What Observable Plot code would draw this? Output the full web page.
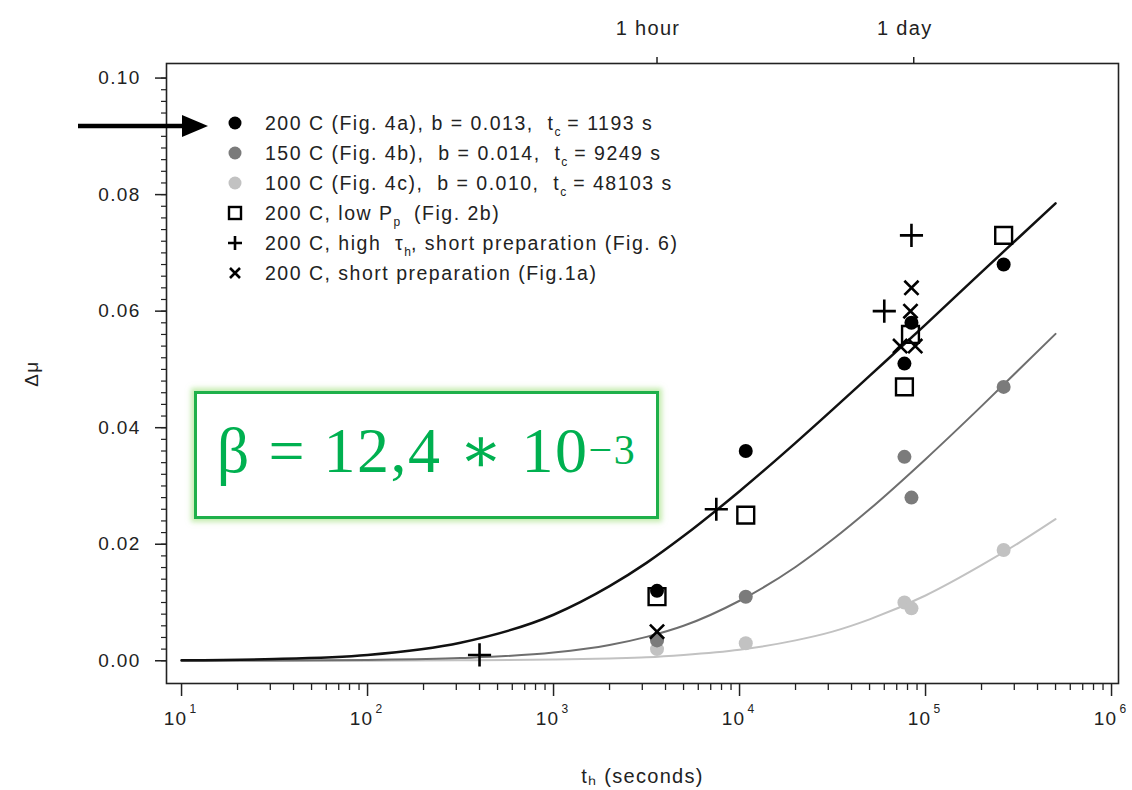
<!DOCTYPE html>
<html><head><meta charset="utf-8">
<script src="https://cdn.jsdelivr.net/npm/d3@7"></script>
<script src="https://cdn.jsdelivr.net/npm/@observablehq/plot@0.6"></script>
<style>
body{margin:0;background:#fff;}
#wrap{position:relative;width:1132px;height:790px;font-family:"Liberation Sans",Arial,sans-serif;color:#222;}
#wrap svg text{letter-spacing:1.3px;}
#legend{position:absolute;left:224px;top:108px;font-size:19.5px;letter-spacing:1.5px;line-height:30px;white-space:pre;color:#222;}
#legend .row{display:flex;align-items:center;height:30px;}
#legend svg{width:22px;height:22px;margin-right:19px;}
#legend sub{font-size:12px;vertical-align:-6px;line-height:0;letter-spacing:0;}
#beta{position:absolute;left:194px;top:391px;width:465px;height:128px;box-sizing:border-box;border:3px solid #1fb04a;box-shadow:0 0 5px 3px rgba(150,220,110,0.55);
 font-family:"Liberation Serif","DejaVu Serif",serif;color:#00b050;font-size:64px;letter-spacing:1.5px;display:flex;align-items:center;justify-content:center;white-space:pre;padding-bottom:10px;}
#beta sup{font-size:42px;vertical-align:26px;line-height:0;}
#overlay{position:absolute;left:0;top:0;pointer-events:none;}
</style></head><body><div id="wrap"></div>
<script>
// ---- data ----
const curveT = [10, 31.6, 100, 316, 1000, 2000, 3162, 5000, 10000, 20000, 31620, 50000, 100000, 200000, 316200, 500000];
const fit200 = [0.0001, 0.0003, 0.001, 0.0031, 0.0079, 0.0128, 0.0168, 0.0214, 0.0291, 0.0374, 0.0431, 0.0489, 0.0577, 0.0667, 0.0726, 0.0785];
const fit150 = [0.00002, 0.00005, 0.00015, 0.00047, 0.0014, 0.0027, 0.0041, 0.006, 0.0103, 0.0161, 0.0208, 0.026, 0.0346, 0.0437, 0.0499, 0.0561];
const fit100 = [0.0000, 0.00001, 0.00002, 0.00007, 0.0002, 0.0004, 0.0006, 0.001, 0.0019, 0.0035, 0.005, 0.0071, 0.0112, 0.0164, 0.0202, 0.0243];

const t200 = [3600, 10800, 77000, 84000, 263000];
const mu200 = [0.012, 0.036, 0.051, 0.058, 0.068];
const t150 = [3600, 10800, 77000, 84000, 263000];
const mu150 = [0.0035, 0.011, 0.035, 0.028, 0.047];
const t100 = [3600, 10800, 77000, 84000, 263000];
const mu100 = [0.002, 0.003, 0.010, 0.009, 0.019];
const tLowP = [3600, 10800, 77000, 83000, 263000];
const muLowP = [0.011, 0.025, 0.047, 0.056, 0.073];
const tHighTau = [400, 7500, 60000, 84000];
const muHighTau = [0.001, 0.026, 0.060, 0.073];
const tShort = [3600, 73000, 83000, 84000, 88000];
const muShort = [0.005, 0.054, 0.060, 0.064, 0.054];

const yMajorTicks = [0, 0.02, 0.04, 0.06, 0.08, 0.10];
const yTickLabels = ["0.00", "0.02", "0.04", "0.06", "0.08", "0.10"];
const xMajorTicks = [10, 100, 1000, 10000, 100000, 1000000];
const xTickBase = ["10", "10", "10", "10", "10", "10"];
const xTickExp = ["1", "2", "3", "4", "5", "6"];
const topTicks = [3600, 86400];
const topTickLabels = ["1 hour", "1 day"];

const legendLabels = [
  "200 C (Fig. 4a), b = 0.013,  t<sub>c</sub> = 1193 s",
  "150 C (Fig. 4b),  b = 0.014,  t<sub>c</sub> = 9249 s",
  "100 C (Fig. 4c),  b = 0.010,  t<sub>c</sub> = 48103 s",
  "200 C, low P<sub>p</sub>  (Fig. 2b)",
  "200 C, high  τ<sub>h</sub>, short preparation (Fig. 6)",
  "200 C, short preparation (Fig.1a)"
];
const legendSymbols = ["dot-black", "dot-gray", "dot-light", "square", "plus", "times"];
const betaText = "β = 12,4 ∗ 10";
const betaExp = "−3";

// ---- styles ----
const cBlack = "#000", cGray = "#7b7b7b", cLight = "#c2c2c2";

const yMinor = d3.range(0, 0.1001, 0.002);
const xMinor = [];
for (let k = 1; k <= 5; k++) for (let m = 2; m <= 9; m++) xMinor.push(m * Math.pow(10, k));

const chart = Plot.plot({
  width: 1132, height: 790,
  marginLeft: 166, marginRight: 14, marginTop: 63, marginBottom: 107,
  style: {fontFamily: "Liberation Sans, Arial, sans-serif", fontSize: "19px", color: "#222", background: "transparent"},
  x: {type: "log", domain: [8.3, 1.09e6]},
  y: {domain: [-0.0039, 0.1025]},
  marks: [
    Plot.axisY(yMinor, {tickSize: 5, tickFormat: () => "", label: null, strokeWidth: 1.2}),
    Plot.axisY(yMajorTicks, {tickSize: 11, tickPadding: 15, tickFormat: d => yTickLabels[yMajorTicks.indexOf(d)], strokeWidth: 1.5,
      label: "Δμ", labelAnchor: "center", labelArrow: "none", labelOffset: 142, fontSize: 19}),
    Plot.axisX(xMinor, {tickSize: 7, tickFormat: () => "", label: null, strokeWidth: 1.3}),
    Plot.axisX(xMajorTicks, {tickSize: 13, tickFormat: () => "", strokeWidth: 1.5,
      label: "tₕ (seconds)", labelAnchor: "center", labelArrow: "none", labelOffset: 99, fontSize: 20}),
    Plot.text(xMajorTicks, {x: d => d, text: (d, i) => xTickBase[i], frameAnchor: "bottom", dy: 41, dx: -6, fontSize: 19}),
    Plot.text(xMajorTicks, {x: d => d, text: (d, i) => xTickExp[i], frameAnchor: "bottom", dy: 29, dx: 12, fontSize: 12}),
    Plot.axisX(topTicks, {anchor: "top", tickSize: 7, tickFormat: () => "", label: null, strokeWidth: 1.5}),
    Plot.text(topTicks, {x: d => d, text: (d, i) => topTickLabels[i], frameAnchor: "top", dy: -43, dx: -9, fontSize: 20}),
    Plot.frame({stroke: "#222", strokeWidth: 1.6}),
    Plot.line(fit100, {x: curveT, y: fit100, stroke: cLight, strokeWidth: 2, curve: "monotone-x"}),
    Plot.line(fit150, {x: curveT, y: fit150, stroke: "#6e6e6e", strokeWidth: 2, curve: "monotone-x"}),
    Plot.line(fit200, {x: curveT, y: fit200, stroke: "#111", strokeWidth: 2.5, curve: "monotone-x"}),
    Plot.dot(mu100, {x: t100, y: mu100, r: 7, fill: cLight, stroke: "none"}),
    Plot.dot(mu150, {x: t150, y: mu150, r: 7, fill: cGray, stroke: "none"}),
    Plot.dot(mu200, {x: t200, y: mu200, r: 7, fill: cBlack, stroke: "none"}),
    Plot.dot(muLowP, {x: tLowP, y: muLowP, r: 9.5, symbol: "square", fill: "none", stroke: "#000", strokeWidth: 2.4}),
    Plot.dot(muHighTau, {x: tHighTau, y: muHighTau, r: 7.5, symbol: "plus", stroke: "#000", strokeWidth: 2.6}),
    Plot.dot(muShort, {x: tShort, y: muShort, r: 6.5, symbol: "times", stroke: "#000", strokeWidth: 2.6})
  ]
});

const wrap = document.getElementById("wrap");
wrap.appendChild(chart);

// legend
const symSvg = {
  "dot-black": `<circle cx="11" cy="11" r="6.5" fill="${cBlack}"/>`,
  "dot-gray": `<circle cx="11" cy="11" r="6.5" fill="${cGray}"/>`,
  "dot-light": `<circle cx="11" cy="11" r="6.5" fill="${cLight}"/>`,
  "square": `<rect x="5" y="5" width="12" height="12" fill="none" stroke="#000" stroke-width="2.4"/>`,
  "plus": `<path d="M11 4V18M4 11H18" stroke="#000" stroke-width="2.6"/>`,
  "times": `<path d="M6 6L16 16M16 6L6 16" stroke="#000" stroke-width="2.6"/>`
};
const legend = document.createElement("div");
legend.id = "legend";
legend.innerHTML = legendLabels.map((lab, i) =>
  `<div class="row"><svg viewBox="0 0 22 22">${symSvg[legendSymbols[i]]}</svg><span>${lab}</span></div>`).join("");
wrap.appendChild(legend);

// beta annotation box
const beta = document.createElement("div");
beta.id = "beta";
beta.innerHTML = `${betaText}<sup>${betaExp}</sup>`;
wrap.appendChild(beta);

// arrow annotation
const ns = "http://www.w3.org/2000/svg";
const ov = document.createElementNS(ns, "svg");
ov.setAttribute("id", "overlay");
ov.setAttribute("width", 1132); ov.setAttribute("height", 790);
ov.innerHTML = `<line x1="78" y1="126" x2="186" y2="126" stroke="#000" stroke-width="4.5"/>
<polygon points="182,115 208,126 182,137" fill="#000"/>`;
wrap.appendChild(ov);
</script>
</body></html>
